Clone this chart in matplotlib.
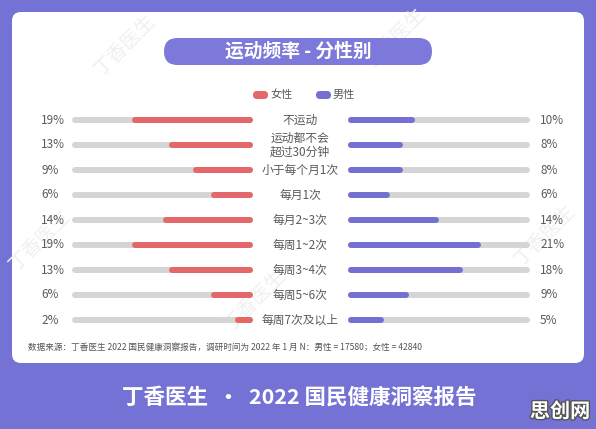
import matplotlib
matplotlib.use('Agg')
import matplotlib.pyplot as plt
from matplotlib.patches import FancyBboxPatch
import matplotlib.patheffects as pe

plt.rcParams['font.family'] = ['Noto Sans CJK SC', 'DejaVu Sans']

# data
categories = ['不运动', '运动都不会\n超过30分钟', '小于每个月1次', '每月1次', '每月2~3次',
              '每周1~2次', '每周3~4次', '每周5~6次', '每周7次及以上']
female = [19, 13, 9, 6, 14, 19, 13, 6, 2]
male = [10, 8, 8, 6, 14, 21, 18, 9, 5]
series_names = ['女性', '男性']
title = '运动频率 - 分性别'
note = '数据来源：丁香医生 2022 国民健康洞察报告，调研时间为 2022 年 1 月 N：男性 = 17580；女性 = 42840'
footer = '丁香医生  ·  2022 国民健康洞察报告'

bg_col = '#7572d6'
pill_col = '#7c79da'
red = '#e4676a'
blue = '#7470d2'
track = '#d5d5d5'
txt = '#5a5a5a'
W, H = 596, 429
track_max = 29

fig = plt.figure(figsize=(W / 100, H / 100), dpi=100)
fig.patch.set_facecolor(bg_col)

# background canvas in pixel units
bg = fig.add_axes([0, 0, 1, 1])
bg.set_xlim(0, W)
bg.set_ylim(H, 0)
bg.axis('off')
bg.add_patch(FancyBboxPatch((12, 12), 572, 351, boxstyle='round,pad=0,rounding_size=9',
                            fc='white', ec='none'))

# faint watermarks on the card
for (x, y) in [(125, 45), (395, 38), (545, 235), (255, 300), (40, 240)]:
    bg.text(x, y, '丁香医生', color='#f0f0f0', fontsize=14, rotation=45,
            ha='center', va='center', zorder=1.5)

bg.add_patch(FancyBboxPatch((164, 38), 268, 27, boxstyle='round,pad=0,rounding_size=13.5',
                            fc=pill_col, ec='none', zorder=2))
bg.text(298, 51, title, color='white', fontsize=13.5, fontweight='bold',
        ha='center', va='center', zorder=3)

# legend
for k, (name, col) in enumerate(zip(series_names, [red, blue])):
    x0 = 253 + k * 63
    bg.add_patch(FancyBboxPatch((x0, 91), 15, 8, boxstyle='round,pad=0,rounding_size=4',
                                fc=col, ec='none', zorder=2))
    bg.text(x0 + 17, 95, name, color=txt, fontsize=8, ha='left', va='center', zorder=3)

bg.text(28, 347, note, color='#555555', fontsize=6.2, ha='left', va='center', zorder=3)
bg.text(299, 398, footer, color='white', fontsize=15.5, fontweight='bold',
        ha='center', va='center')
bg.text(560, 411, '思创网', color='white', fontsize=14.5, fontweight='bold',
        ha='center', va='center',
        path_effects=[pe.withStroke(linewidth=2, foreground='#555555')])

# bar axes
n = len(categories)
top_px, bot_px = 107.5, 332.5
lw = 4.3
pad = track_max * 3 / 175


def bar_axes(x0, x1):
    ax = fig.add_axes([x0 / W, 1 - bot_px / H, (x1 - x0) / W, (bot_px - top_px) / H])
    ax.set_ylim(n - 0.5, -0.5)
    ax.set_xlim(-pad, track_max + pad)
    ax.axis('off')
    return ax


axl = bar_axes(72, 253)
axl.invert_xaxis()
axr = bar_axes(348, 530)

for i in range(n):
    axl.plot([0, track_max], [i, i], color=track, lw=lw, solid_capstyle='round')
    axl.plot([0, female[i]], [i, i], color=red, lw=lw, solid_capstyle='round')
    axr.plot([0, track_max], [i, i], color=track, lw=lw, solid_capstyle='round')
    axr.plot([0, male[i]], [i, i], color=blue, lw=lw, solid_capstyle='round')
    axl.text((41 - 72) / 181, i, f'{female[i]}%', transform=axl.get_yaxis_transform(),
             color=txt, fontsize=8.5, ha='left', va='center')
    axl.text((300 - 72) / 181, i, categories[i], transform=axl.get_yaxis_transform(),
             color=txt, fontsize=8.5, ha='center', va='center', linespacing=1.1)
    axr.text((540 - 348) / 182, i, f'{male[i]}%', transform=axr.get_yaxis_transform(),
             color=txt, fontsize=8.5, ha='left', va='center')

fig.savefig('out.png', dpi=100, facecolor=fig.get_facecolor())
